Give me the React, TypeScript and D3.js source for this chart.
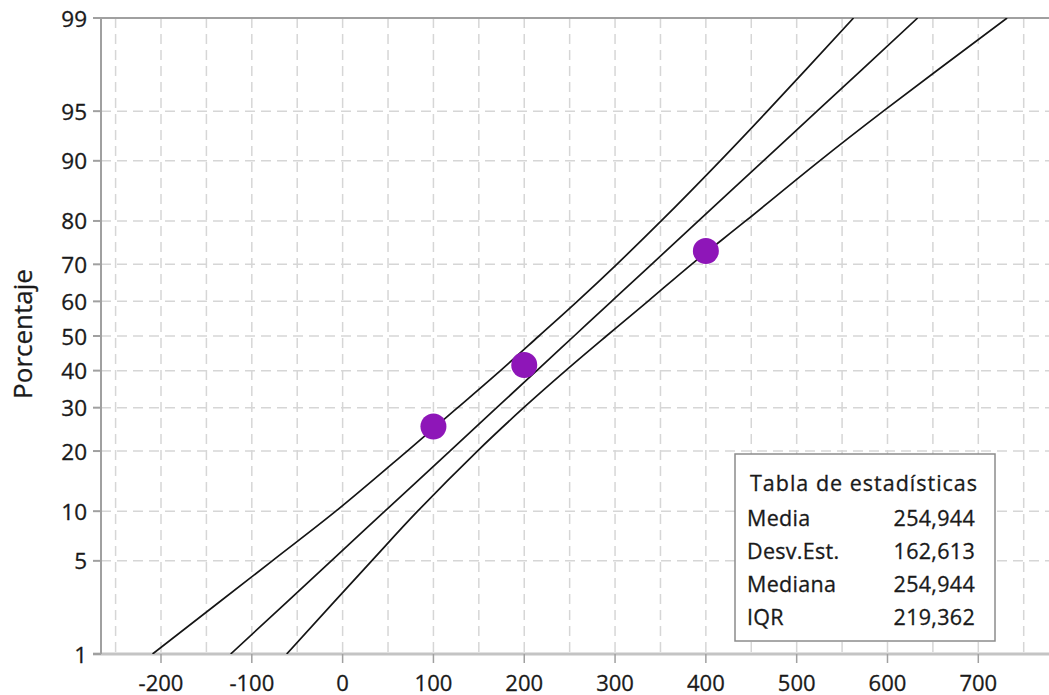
import React from "react";
import * as d3 from "d3";

// ---- data ----
const PCT_TICKS = [1, 5, 10, 20, 30, 40, 50, 60, 70, 80, 90, 95, 99];
const X_TICKS = [-200, -100, 0, 100, 200, 300, 400, 500, 600, 700];
const X_GRID = [-250, -200, -150, -100, -50, 0, 50, 100, 150, 200, 250, 300, 350, 400, 450, 500, 550, 600, 650, 700, 750];
const POINT_VALUES = [100, 200, 400];
const POINT_PCTS = [25.4, 41.6, 73.3];
const BAND_PCTS = [1, 5, 10, 20, 30, 40, 50, 60, 70, 80, 90, 95, 99];
const FIT_VALUES = [-123.3, -12.5, 46.5, 118.1, 169.7, 213.8, 254.9, 296.1, 340.2, 391.8, 463.3, 522.4, 633.2];
const LOWER_VALUES = [-209.3, -77.5, -7.5, 71.1, 126.7, 173.8, 216.2, 258.4, 301.9, 350.8, 415.8, 467.7, 562.6];
const UPPER_VALUES = [-61.6, 32, 82.6, 148.4, 199.4, 245.6, 290.5, 336.1, 384.2, 443.8, 525.3, 595.4, 731.7];
const TABLE_TITLE = "Tabla de estadísticas";
const STAT_LABELS = ["Media", "Desv.Est.", "Mediana", "IQR"];
const STAT_VALUES = ["254,944", "162,613", "254,944", "219,362"];

// inverse standard normal CDF (Acklam)
function probit(p: number): number {
  const a = [-3.969683028665376e1, 2.209460984245205e2, -2.759285104469687e2, 1.38357751867269e2, -3.066479806614716e1, 2.506628277459239];
  const b = [-5.447609879822406e1, 1.615858368580409e2, -1.556989798598866e2, 6.680131188771972e1, -1.328068155288572e1];
  const c = [-7.784894002430293e-3, -3.223964580411365e-1, -2.400758277161838, -2.549732539343734, 4.374664141464968, 2.938163982698783];
  const d = [7.784695709041462e-3, 3.224671290700398e-1, 2.445134137142996, 3.754408661907416];
  const pl = 0.02425;
  if (p < pl) {
    const q = Math.sqrt(-2 * Math.log(p));
    return (((((c[0] * q + c[1]) * q + c[2]) * q + c[3]) * q + c[4]) * q + c[5]) / ((((d[0] * q + d[1]) * q + d[2]) * q + d[3]) * q + 1);
  }
  if (p > 1 - pl) {
    const q = Math.sqrt(-2 * Math.log(1 - p));
    return -(((((c[0] * q + c[1]) * q + c[2]) * q + c[3]) * q + c[4]) * q + c[5]) / ((((d[0] * q + d[1]) * q + d[2]) * q + d[3]) * q + 1);
  }
  const q = p - 0.5;
  const r = q * q;
  return ((((((a[0] * r + a[1]) * r + a[2]) * r + a[3]) * r + a[4]) * r + a[5]) * q) / (((((b[0] * r + b[1]) * r + b[2]) * r + b[3]) * r + b[4]) * r + 1);
}

const W = 1049;
const H = 695;
const LEFT = 101;
const TOP = 18;
const BOTTOM = 654;
const RIGHT = 1049;
const FONT = "'Open Sans', 'Noto Sans', sans-serif";

export default function App() {
  const x = d3.scaleLinear().domain([-200, 700]).range([161, 978.3]);
  const y = d3.scaleLinear().domain([probit(0.01), probit(0.99)]).range([BOTTOM, TOP]);
  const py = (pct: number) => y(probit(pct / 100));

  const line = d3
    .line<[number, number]>()
    .x((d) => x(d[0]))
    .y((d) => py(d[1]))
    .curve(d3.curveCatmullRom.alpha(0.5));

  const series = [LOWER_VALUES, FIT_VALUES, UPPER_VALUES].map((vals) =>
    vals.map((v, i) => [v, BAND_PCTS[i]] as [number, number])
  );

  const gridColor = "#d6d6d6";
  const axisColor = "#a0a0a0";
  const textColor = "#1a1a1a";
  const textProps = { fill: textColor, stroke: textColor, strokeWidth: 0.3 };

  const boxX = 735, boxY = 454, boxW = 260, boxH = 187;

  return (
    <svg width={W} height={H} style={{ position: "absolute", left: 0, top: 0, background: "#fff" }} fontFamily={FONT}>
      <defs>
        <clipPath id="plotClip">
          <rect x={LEFT} y={TOP} width={RIGHT - LEFT} height={BOTTOM - TOP} />
        </clipPath>
      </defs>
      <rect x={0} y={0} width={W} height={H} fill="#fff" />
      {/* vertical grid */}
      {X_GRID.map((g) => (
        <line key={"vg" + g} x1={x(g)} x2={x(g)} y1={TOP} y2={BOTTOM} stroke={gridColor} strokeWidth={1.5} strokeDasharray="10,6" />
      ))}
      {/* horizontal grid */}
      {PCT_TICKS.filter((p) => p !== 1 && p !== 99).map((p) => (
        <line key={"hg" + p} x1={LEFT} x2={RIGHT} y1={py(p)} y2={py(p)} stroke={gridColor} strokeWidth={1.5} strokeDasharray="10,6" />
      ))}
      {/* axes */}
      <line x1={LEFT - 8} x2={RIGHT} y1={TOP} y2={TOP} stroke={axisColor} strokeWidth={2} />
      <line x1={LEFT - 8} x2={RIGHT} y1={BOTTOM} y2={BOTTOM} stroke="#c4c4c4" strokeWidth={3} />
      <line x1={LEFT} x2={LEFT} y1={TOP} y2={BOTTOM} stroke={axisColor} strokeWidth={2} />
      {/* y ticks */}
      {PCT_TICKS.map((p) => (
        <g key={"yt" + p}>
          <line x1={LEFT - 8} x2={LEFT} y1={py(p)} y2={py(p)} stroke={axisColor} strokeWidth={2} />
          <text x={87} y={py(p) + 8.5} textAnchor="end" fontSize={22.5} {...textProps}>
            {p}
          </text>
        </g>
      ))}
      {/* x ticks */}
      {X_TICKS.map((t) => (
        <g key={"xt" + t}>
          <line x1={x(t)} x2={x(t)} y1={BOTTOM} y2={BOTTOM + 9} stroke={axisColor} strokeWidth={1.5} />
          <text x={x(t)} y={691} textAnchor="middle" fontSize={22} {...textProps}>
            {t}
          </text>
        </g>
      ))}
      {/* y title */}
      <text transform={`translate(32,334) rotate(-90)`} textAnchor="middle" fontSize={26} {...textProps}>
        Porcentaje
      </text>
      {/* lines */}
      <g clipPath="url(#plotClip)">
        {series.map((s, i) => (
          <path key={"ln" + i} d={line(s) || ""} fill="none" stroke="#151515" strokeWidth={1.7} />
        ))}
      </g>
      {/* points */}
      {POINT_VALUES.map((v, i) => (
        <circle key={"pt" + i} cx={x(v)} cy={py(POINT_PCTS[i])} r={13} fill="#8e16b8" />
      ))}
      {/* stats table */}
      <rect x={boxX} y={boxY} width={boxW} height={boxH} fill="#fff" stroke="#8c8c8c" strokeWidth={1.5} />
      <text x={boxX + 15} y={boxY + 37} fontSize={21.5} letterSpacing={1.0} {...textProps}>
        {TABLE_TITLE}
      </text>
      {STAT_LABELS.map((l, i) => (
        <g key={"st" + i}>
          <text x={boxX + 12} y={boxY + 72 + i * 33} fontSize={21.5} letterSpacing={0.3} {...textProps}>
            {l}
          </text>
          <text x={boxX + 240} y={boxY + 72 + i * 33} fontSize={21.5} letterSpacing={0.3} textAnchor="end" {...textProps}>
            {STAT_VALUES[i]}
          </text>
        </g>
      ))}
    </svg>
  );
}
